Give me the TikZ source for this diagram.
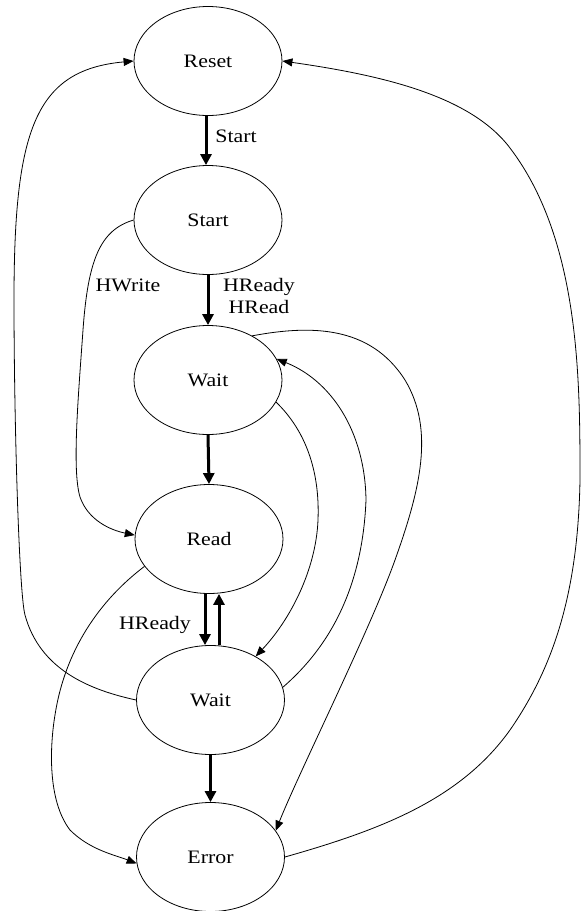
\documentclass[tikz,border=0pt]{standalone}
\usepackage{fontspec}
\setmainfont{Liberation Serif}[FakeStretch=1.15]
\usetikzlibrary{arrows.meta,shapes.geometric}
\begin{document}
\begin{tikzpicture}[x=1pt,y=-1pt,
  state/.style={draw, ellipse, line width=0.8pt, minimum width=148pt, minimum height=109pt, inner sep=0pt, font=\fontsize{19}{22}\selectfont},
  txt/.style={font=\fontsize{19}{22}\selectfont, inner sep=0pt},
  thickarrow/.style={line width=3pt, -{Triangle[length=11pt,width=11pt]}},
  thinarrow/.style={line width=0.8pt, -{Triangle[length=10pt,width=8pt]}}]
\useasboundingbox[fill=white] (0,0) rectangle (581,911);
\node[state] (reset) at (208,61) {Reset};
\node[state] (start) at (208,220) {Start};
\node[state] (wait1) at (208,380) {Wait};
\node[state] (read) at (209,539) {Read};
\node[state] (wait2) at (210.5,700) {Wait};
\node[state] (error) at (210.5,857) {Error};
% thick transitions
\draw[thickarrow] ([xshift=-2pt]reset.south) -- ([xshift=-2pt]start.north);
\draw[thickarrow] (start.south) -- (wait1.north);
\draw[thickarrow] (wait1.south) -- (read.north);
\draw[thickarrow] ([xshift=-4pt]read.south) -- ([xshift=-5.5pt]wait2.north);
\draw[thickarrow] ([xshift=8.5pt]wait2.north) -- ([xshift=10pt]read.south);
\draw[thickarrow] (wait2.south) -- (error.north);
% thin curves
\draw[thinarrow] (wait2.west) .. controls (90,690) and (40,670) .. (25,615) .. controls (19,593) and (14,420) .. (14,300) .. controls (14,130) and (35,70) .. (reset.west);
\draw[thinarrow] (start.west) .. controls (100,230) and (88,260) .. (83,330) .. controls (78,400) and (72,470) .. (80,497) .. controls (88,520) and (110,530) .. (read.177);
\draw[thinarrow] (read.203) .. controls (100,600) and (65,650) .. (55,715) .. controls (50,745) and (47,800) .. (70,830) .. controls (90,850) and (115,855) .. (error.185);
\draw[thinarrow] (wait1.342) .. controls (305,430) and (320,470) .. (318,520) .. controls (316,570) and (290,620) .. (wait2.44);
\draw[thinarrow] (wait2.10) .. controls (320,655) and (362,600) .. (366,500) .. controls (365,430) and (330,380) .. (wait1.17);
\draw[thinarrow] (wait1.45) .. controls (310,325) and (370,325) .. (405,380) .. controls (435,430) and (420,490) .. (395,560) .. controls (370,630) and (300,770) .. (error.22);
\draw[thinarrow] (error.east) .. controls (380,830) and (460,800) .. (510,730) .. controls (555,665) and (578,590) .. (580,480) .. controls (580,380) and (580,240) .. (510,148) .. controls (470,95) and (380,75) .. (reset.east);
% labels
\node[txt] (lstart) at (236,136) {Start};
\node[txt] (lhwrite) at (128,285) {HWrite};
\node[txt, align=center] (lhready) at (259,296) {HReady\\HRead};
\node[txt] (lhready2) at (155,625) {HReady};
\end{tikzpicture}
\end{document}
